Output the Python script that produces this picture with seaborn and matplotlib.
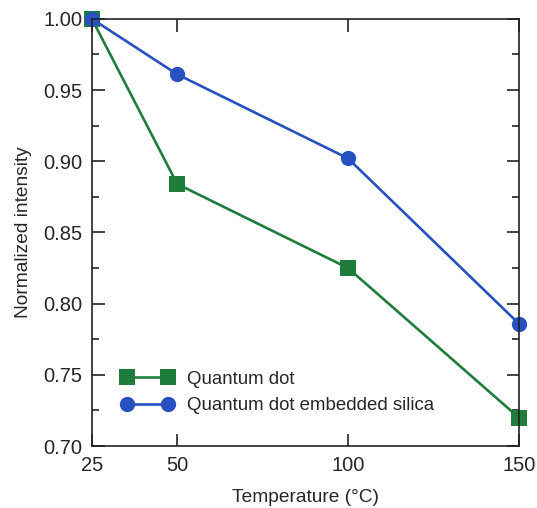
import matplotlib
matplotlib.use('Agg')
import matplotlib.pyplot as plt
import pandas as pd
import seaborn as sns
from matplotlib.ticker import MultipleLocator

# --------------------------------------------------
# data
temps = [25, 50, 100, 150]
qd = [1.000, 0.884, 0.825, 0.720]
qd_silica = [1.000, 0.961, 0.902, 0.786]
names = ['Quantum dot', 'Quantum dot embedded silica']

df = pd.DataFrame({
    'temp': temps * 2,
    'intensity': qd + qd_silica,
    'sample': [names[0]] * len(temps) + [names[1]] * len(temps),
})

sns.set_style('ticks')
plt.rcParams['font.family'] = ['Liberation Sans', 'DejaVu Sans']

fig = plt.figure(figsize=(5.37, 5.08), dpi=100)
ax = fig.add_axes([0.171, 0.122, 0.795, 0.841])

palette = {names[0]: '#1f7d3c', names[1]: '#2750c0'}
markers = {names[0]: 's', names[1]: 'o'}
sns.lineplot(data=df, x='temp', y='intensity', hue='sample', style='sample',
             palette=palette, markers=markers, dashes=False,
             markersize=11, linewidth=1.9, markeredgewidth=0,
             ax=ax, clip_on=False)

ax.set_xlim(25, 150)
ax.set_ylim(0.70, 1.00)
ax.set_xticks(temps)
ax.yaxis.set_major_locator(MultipleLocator(0.05))
ax.yaxis.set_minor_locator(MultipleLocator(0.025))
ax.tick_params(which='both', direction='in', top=True, right=True,
               color='#222222', width=1.2)
ax.tick_params(which='major', length=9, labelsize=14.5, pad=7)
ax.tick_params(which='minor', length=5)
for sp in ax.spines.values():
    sp.set_linewidth(1.2)
    sp.set_color('#222222')

ax.set_xlabel('Temperature (°C)', fontsize=13.8, labelpad=10)
ax.set_ylabel('Normalized intensity', fontsize=13.8, labelpad=8)

ax.legend(loc='lower left', frameon=False, fontsize=13.4, numpoints=2,
          handlelength=2.8, handletextpad=0.75, labelspacing=0.5,
          bbox_to_anchor=(0.03, 0.035), title=None)

fig.savefig('out.png', dpi=100)
